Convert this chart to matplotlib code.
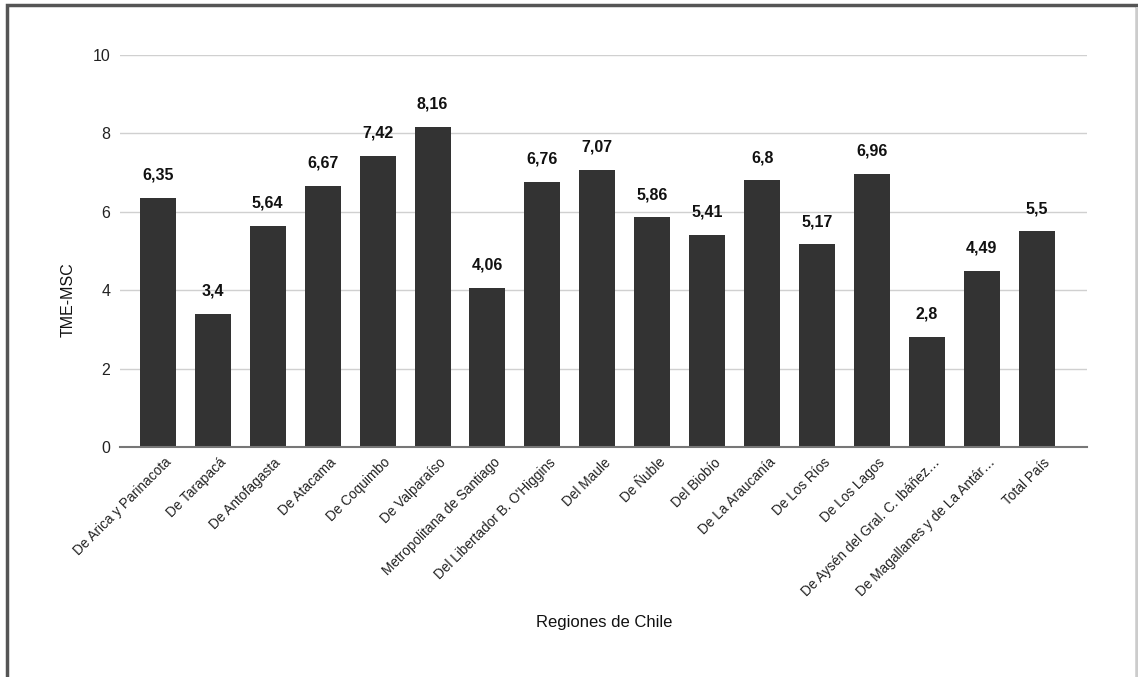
import matplotlib.pyplot as plt
from matplotlib.patches import Rectangle
from matplotlib.transforms import ScaledTranslation

plt.rcParams["font.family"] = ["Liberation Sans", "DejaVu Sans"]

# -------------------------
# Data
# -------------------------

REGIONS = [
    "De Arica y Parinacota",
    "De Tarapacá",
    "De Antofagasta",
    "De Atacama",
    "De Coquimbo",
    "De Valparaíso",
    "Metropolitana de Santiago",
    "Del Libertador B. O'Higgins",
    "Del Maule",
    "De Ñuble",
    "Del Biobío",
    "De La Araucanía",
    "De Los Ríos",
    "De Los Lagos",
    "De Aysén del Gral. C. Ibáñez…",
    "De Magallanes y de La Antár…",
    "Total País",
]

TME_MSC = [6.35, 3.4, 5.64, 6.67, 7.42, 8.16, 4.06, 6.76, 7.07,
           5.86, 5.41, 6.8, 5.17, 6.96, 2.8, 4.49, 5.5]

Y_TICKS = [0, 2, 4, 6, 8, 10]

BAR_COLOR = "#333333"


def fmt_comma(v):
    return f"{v:g}".replace(".", ",")


def main():
    fig = plt.figure(figsize=(11.38, 6.77), dpi=100)
    ax = fig.add_axes([0.1054, 0.3397, 0.8496, 0.5791])

    x = list(range(len(REGIONS)))
    bars = ax.bar(x, TME_MSC, width=0.655, color=BAR_COLOR, zorder=3)

    for rect, v in zip(bars, TME_MSC):
        ax.annotate(fmt_comma(v),
                    (rect.get_x() + rect.get_width() / 2, v),
                    xytext=(0, 11), textcoords="offset points",
                    ha="center", va="bottom", fontsize=11.5,
                    fontweight="bold", color="#111111")

    ax.set_xlim(-0.69, len(REGIONS) - 1 + 0.91)
    ax.set_ylim(0, 10)
    ax.set_yticks(Y_TICKS)
    ax.set_yticklabels([str(t) for t in Y_TICKS], fontsize=11.5, color="#222222")
    ax.set_xticks(x)
    ax.set_xticklabels(REGIONS, rotation=45, ha="right", rotation_mode="anchor",
                       fontsize=9.8, color="#222222")
    ax.tick_params(axis="both", length=0)
    ax.tick_params(axis="y", pad=7)
    ax.tick_params(axis="x", pad=6)

    # nudge rotated category labels a little to the right
    shift = ScaledTranslation(6 / 100, 0, fig.dpi_scale_trans)
    for lbl in ax.get_xticklabels():
        lbl.set_transform(lbl.get_transform() + shift)

    ax.grid(axis="y", color="#d0d0d0", linewidth=1, zorder=0)
    for side in ("top", "right", "left"):
        ax.spines[side].set_visible(False)
    ax.spines["bottom"].set_color("#777777")
    ax.spines["bottom"].set_linewidth(1.5)
    ax.spines["bottom"].set_zorder(4)

    ax.set_ylabel("TME-MSC", fontsize=11.5, color="#111111")
    ax.yaxis.set_label_coords(-0.046, 0.375)
    fig.text(0.531, 0.080, "Regiones de Chile", ha="center", va="center",
             fontsize=12, color="#111111")

    # outer frame of the panel
    fig.patches.append(Rectangle((0.0063, -0.01), 0.993, 1.0025,
                                 transform=fig.transFigure, fill=False,
                                 edgecolor="#555555", linewidth=2.5))
    fig.patches.append(Rectangle((0.9985, -0.01), 0.002, 1.0,
                                 transform=fig.transFigure, fill=True,
                                 facecolor="#cccccc", edgecolor="none"))

    fig.savefig("out.png", dpi=100)


if __name__ == "__main__":
    main()
